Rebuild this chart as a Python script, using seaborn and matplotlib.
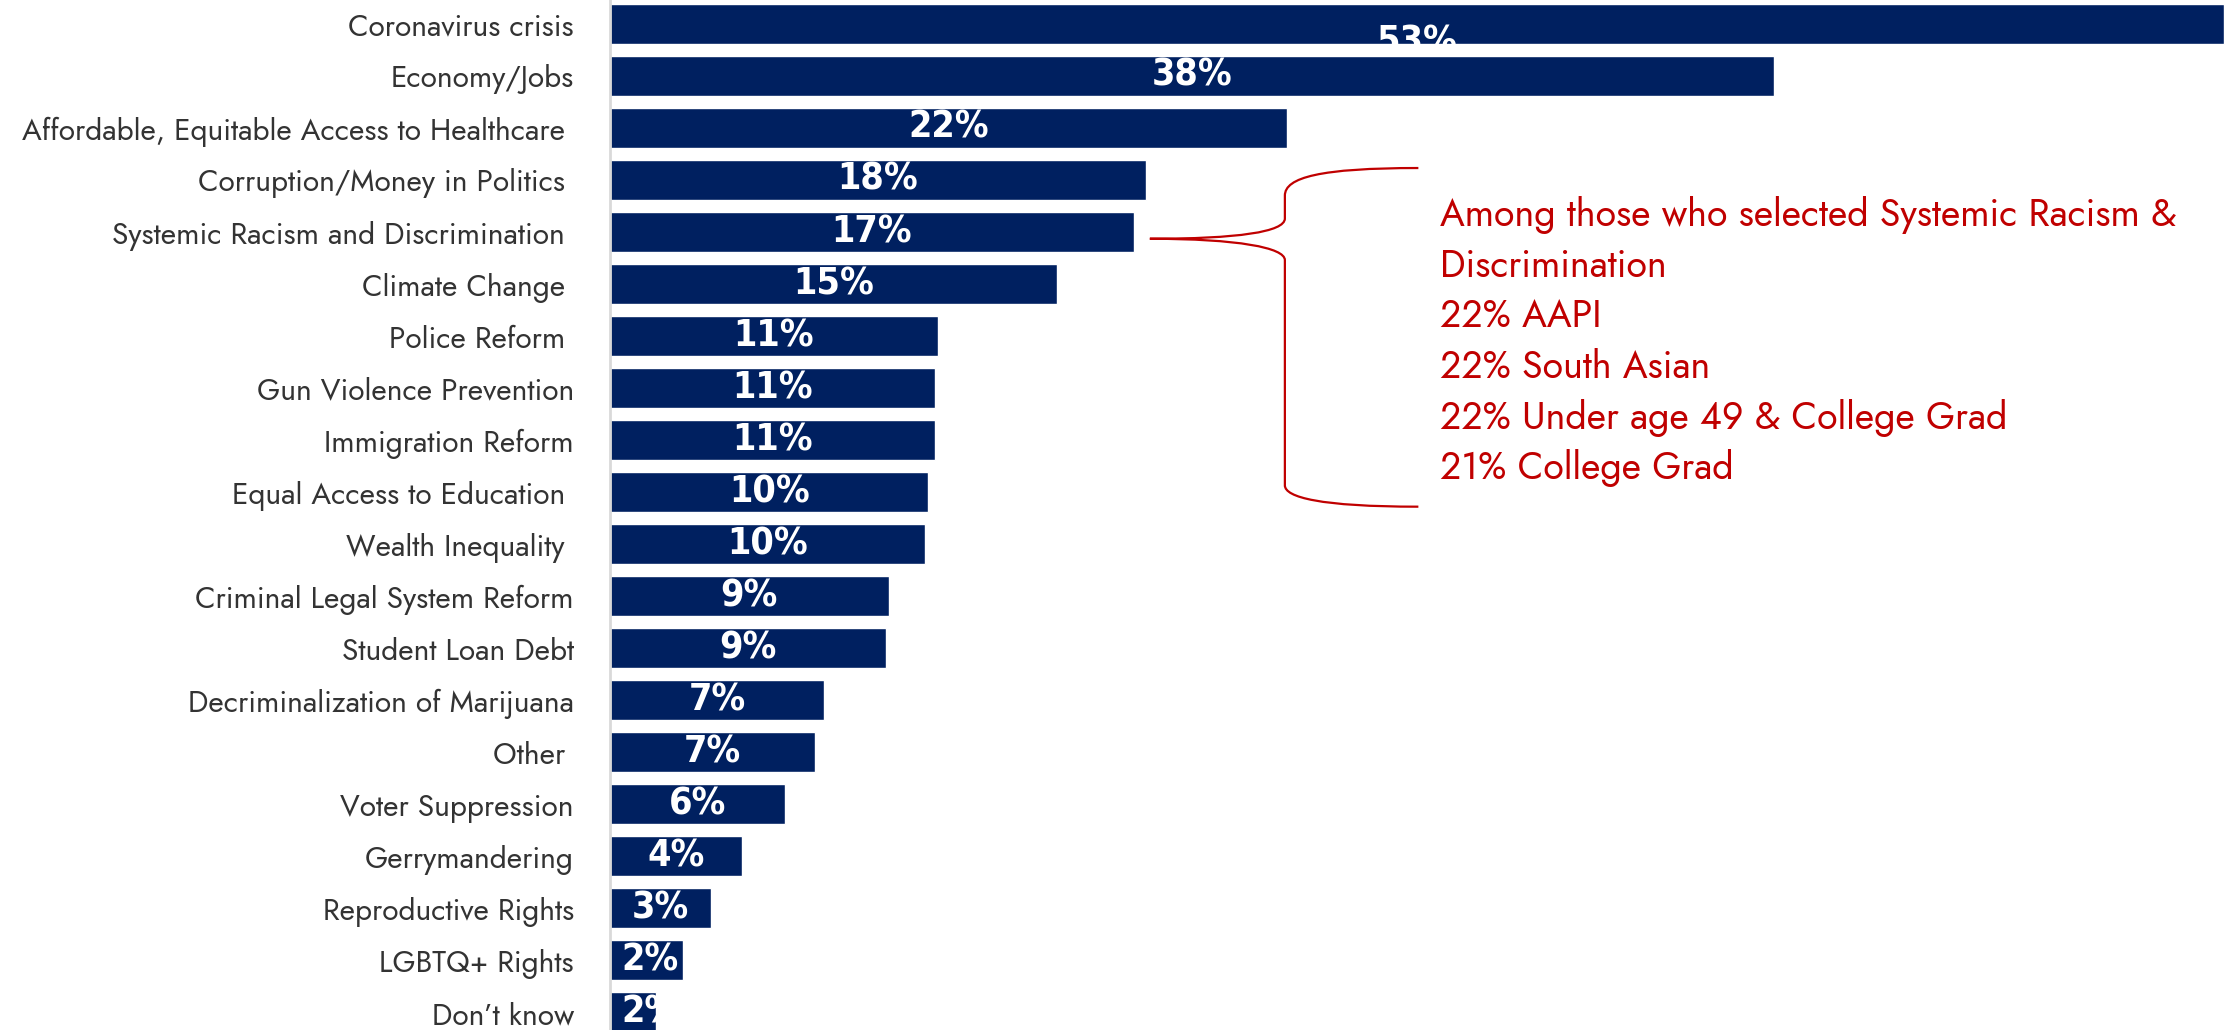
import matplotlib
matplotlib.use("Agg")
import matplotlib.pyplot as plt
import pandas as pd
import seaborn as sns
from matplotlib.path import Path
from matplotlib.patches import PathPatch

# Chart data.
issues = [
    'Coronavirus crisis', 'Economy/Jobs', 'Affordable, Equitable Access to Healthcare ',
    'Corruption/Money in Politics ', 'Systemic Racism and Discrimination ', 'Climate Change ',
    'Police Reform ', 'Gun Violence Prevention', 'Immigration Reform',
    'Equal Access to Education ', 'Wealth Inequality ', 'Criminal Legal System Reform',
    'Student Loan Debt', 'Decriminalization of Marijuana', 'Other ', 'Voter Suppression',
    'Gerrymandering', 'Reproductive Rights', 'LGBTQ+ Rights', 'Don\u2019t know',
]
shares = [52.7, 38.0, 22.1, 17.5, 17.1, 14.6, 10.7, 10.6, 10.6, 10.4,
          10.3, 9.1, 9.0, 7.0, 6.7, 5.7, 4.3, 3.3, 2.4, 1.5]
share_labels = ['53%', '38%', '22%', '18%', '17%', '15%', '11%', '11%', '11%', '10%',
                '10%', '9%', '9%', '7%', '7%', '6%', '4%', '3%', '2%', '2%']
note_lines = [
    'Among those who selected Systemic Racism &',
    'Discrimination',
    '22% AAPI',
    '22% South Asian',
    '22% Under age 49 & College Grad',
    '21% College Grad',
]

NAVY = '#002060'
RED = '#C00000'

df = pd.DataFrame({'issue': issues, 'share': shares})

sns.set_style('white')
plt.rcParams['font.family'] = ['Jost', 'DejaVu Sans']

fig = plt.figure(figsize=(22.39, 10.30), dpi=100)
ax = fig.add_axes([610 / 2239, 0, 1 - 610 / 2239, 1])
sns.barplot(data=df, x='share', y='issue', orient='h', color=NAVY,
            saturation=1, width=0.77, ax=ax)

ax.set_xlim(0, 53.2)
ax.set_ylim(19.34, -0.46)
ax.set_xticks([])
ax.set_xlabel('')
ax.set_ylabel('')
ax.tick_params(axis='y', length=0, pad=26, labelsize=21.5, labelcolor='#333333')
for side in ['top', 'right', 'bottom']:
    ax.spines[side].set_visible(False)
ax.spines['left'].set_color('#D9D9D9')
ax.spines['left'].set_linewidth(2)

# Value labels, clipped to their bars like in the slide.
for i, (bar, lab) in enumerate(zip(ax.containers[0], share_labels)):
    x = max(bar.get_width() / 2, 1.3)
    y = bar.get_y() + bar.get_height() / 2
    if i == 0:
        y += 0.35
    t = ax.text(x, y, lab, ha='center', va='center', color='white',
                fontsize=27, fontweight='bold', fontstretch='condensed',
                family=['DejaVu Sans'])
    t.set_clip_path(bar)

# Brace pointing at Systemic Racism.
verts = [
    (26.4, 2.77),
    (23.2, 2.77), (22.04, 2.95), (22.04, 3.3),
    (22.04, 3.74),
    (22.04, 4.0), (20.5, 4.13), (17.63, 4.13),
    (20.5, 4.13), (22.04, 4.3), (22.04, 4.54),
    (22.04, 8.87),
    (22.04, 9.1), (23.2, 9.28), (26.4, 9.28),
]
codes = [Path.MOVETO,
         Path.CURVE4, Path.CURVE4, Path.CURVE4,
         Path.LINETO,
         Path.CURVE4, Path.CURVE4, Path.CURVE4,
         Path.CURVE4, Path.CURVE4, Path.CURVE4,
         Path.LINETO,
         Path.CURVE4, Path.CURVE4, Path.CURVE4]
ax.add_patch(PathPatch(Path(verts, codes), facecolor='none', edgecolor=RED, linewidth=1.6))

for k, line in enumerate(note_lines):
    ax.text(27.1, 3.67 + k * 0.975, line, color=RED, fontsize=27,
            ha='left', va='center')

fig.savefig('out.png', dpi=100)
